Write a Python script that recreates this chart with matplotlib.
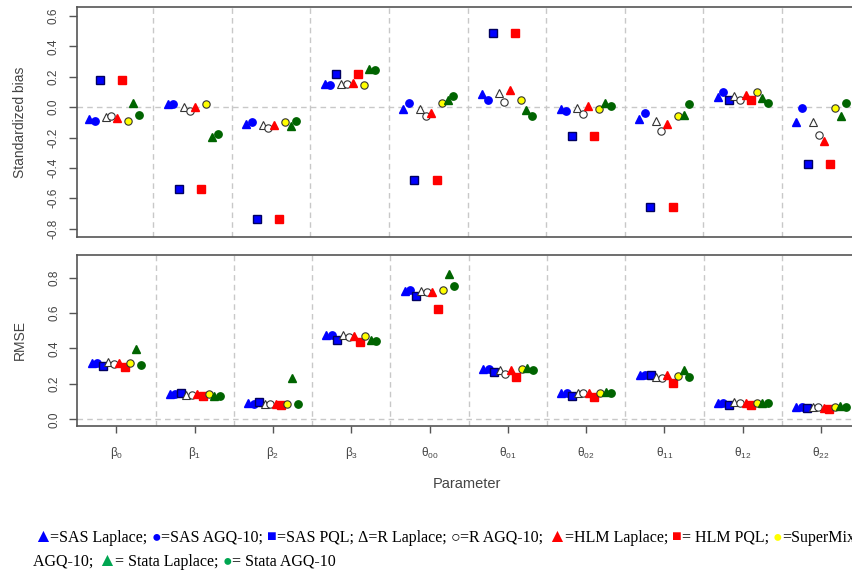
import matplotlib
matplotlib.use("Agg")
import matplotlib.pyplot as plt
from matplotlib.font_manager import FontProperties
import numpy as np

plt.rcParams['font.family'] = ['Liberation Sans', 'DejaVu Sans']
plt.rcParams['mathtext.fontset'] = 'custom'
plt.rcParams['mathtext.rm'] = 'Liberation Sans'
plt.rcParams['mathtext.it'] = 'Liberation Sans'

# ---------------- data ----------------
params = [r'$\mathrm{\beta_{0}}$', r'$\mathrm{\beta_{1}}$', r'$\mathrm{\beta_{2}}$', r'$\mathrm{\beta_{3}}$',
          r'$\mathrm{\theta_{00}}$', r'$\mathrm{\theta_{01}}$', r'$\mathrm{\theta_{02}}$',
          r'$\mathrm{\theta_{11}}$', r'$\mathrm{\theta_{12}}$', r'$\mathrm{\theta_{22}}$']

methods = ["SAS Laplace", "SAS AGQ-10", "SAS PQL", "R Laplace", "R AGQ-10",
           "HLM Laplace", "HLM PQL", "SuperMix AGQ-10", "Stata Laplace", "Stata AGQ-10"]

bias_sas_laplace = [-0.08, 0.02, -0.11, 0.15, -0.01, 0.09, -0.01, -0.08, 0.07, -0.10]
bias_sas_agq = [-0.09, 0.02, -0.10, 0.145, 0.03, 0.05, -0.025, -0.035, 0.10, -0.005]
bias_sas_pql = [0.18, -0.54, -0.735, 0.22, -0.48, 0.49, -0.19, -0.66, 0.05, -0.375]
bias_r_laplace = [-0.065, 0.00, -0.115, 0.15, -0.015, 0.095, -0.005, -0.09, 0.075, -0.10]
bias_r_agq = [-0.057, -0.025, -0.14, 0.15, -0.06, 0.035, -0.045, -0.16, 0.045, -0.18]
bias_hlm_laplace = [-0.07, 0.00, -0.12, 0.16, -0.04, 0.115, 0.005, -0.11, 0.08, -0.225]
bias_hlm_pql = [0.18, -0.54, -0.735, 0.22, -0.48, 0.49, -0.19, -0.66, 0.05, -0.375]
bias_supermix = [-0.09, 0.02, -0.10, 0.145, 0.025, 0.05, -0.012, -0.055, 0.10, -0.005]
bias_stata_laplace = [0.03, -0.195, -0.125, 0.25, 0.05, -0.02, 0.03, -0.05, 0.06, -0.06]
bias_stata_agq = [-0.053, -0.178, -0.092, 0.248, 0.077, -0.058, 0.01, 0.022, 0.026, 0.026]

rmse_sas_laplace = [0.317, 0.143, 0.09, 0.479, 0.723, 0.283, 0.151, 0.249, 0.094, 0.070]
rmse_sas_agq = [0.317, 0.141, 0.089, 0.477, 0.728, 0.283, 0.151, 0.249, 0.094, 0.070]
rmse_sas_pql = [0.30, 0.147, 0.10, 0.45, 0.694, 0.266, 0.132, 0.249, 0.079, 0.062]
rmse_r_laplace = [0.324, 0.139, 0.089, 0.477, 0.726, 0.279, 0.151, 0.241, 0.098, 0.072]
rmse_r_agq = [0.31, 0.136, 0.087, 0.465, 0.717, 0.258, 0.147, 0.235, 0.092, 0.068]
rmse_hlm_laplace = [0.317, 0.143, 0.087, 0.471, 0.719, 0.279, 0.149, 0.249, 0.092, 0.066]
rmse_hlm_pql = [0.296, 0.13, 0.081, 0.437, 0.625, 0.24, 0.126, 0.207, 0.079, 0.058]
rmse_supermix = [0.317, 0.141, 0.089, 0.47, 0.728, 0.283, 0.151, 0.243, 0.092, 0.068]
rmse_stata_laplace = [0.397, 0.134, 0.235, 0.448, 0.823, 0.288, 0.154, 0.277, 0.094, 0.075]
rmse_stata_agq = [0.307, 0.13, 0.089, 0.44, 0.755, 0.279, 0.151, 0.239, 0.092, 0.072]

bias_all = [bias_sas_laplace, bias_sas_agq, bias_sas_pql, bias_r_laplace, bias_r_agq,
            bias_hlm_laplace, bias_hlm_pql, bias_supermix, bias_stata_laplace, bias_stata_agq]
rmse_all = [rmse_sas_laplace, rmse_sas_agq, rmse_sas_pql, rmse_r_laplace, rmse_r_agq,
            rmse_hlm_laplace, rmse_hlm_pql, rmse_supermix, rmse_stata_laplace, rmse_stata_agq]

bias_ticks = [0.6, 0.4, 0.2, 0.0, -0.2, -0.4, -0.6, -0.8]
rmse_ticks = [0.0, 0.2, 0.4, 0.6, 0.8]

legend_line1 = [("\u25B2", "#0000ff"), ("=SAS Laplace; ", "black"), ("\u25CF", "#0000ff"),
                ("=SAS AGQ-10; ", "black"), ("\u25A0", "#0000ff"), ("=SAS PQL; ", "black"),
                ("\u0394=R Laplace; ", "black"), ("\u25CB", "black"), ("=R AGQ-10; ", "black"),
                ("\u25B2", "#ff0000"), ("=HLM Laplace; ", "black"), ("\u25A0", "#ff0000"),
                ("= HLM PQL; ", "black"), ("\u25CF", "#ffff00"), ("=SuperMix", "black")]
legend_line2 = [("AGQ-10; ", "black"), ("\u25B2", "#00a651"), ("= Stata Laplace; ", "black"),
                ("\u25CF", "#00a651"), ("= Stata AGQ-10", "black")]

# ---------------- styles ----------------
BLUE = '#0000ff'
RED = '#ff0000'
GREEN = '#006400'
styles = [
    dict(marker='^', mfc=BLUE, mec=BLUE, ms=6.2),
    dict(marker='o', mfc=BLUE, mec=BLUE, ms=5.3),
    dict(marker='s', mfc=BLUE, mec='#000060', ms=5.5),
    dict(marker='^', mfc='white', mec='#333333', ms=6.0, mew=0.8),
    dict(marker='o', mfc='white', mec='#333333', ms=5.3, mew=0.8),
    dict(marker='^', mfc=RED, mec=RED, ms=6.2),
    dict(marker='s', mfc=RED, mec=RED, ms=5.5),
    dict(marker='o', mfc='#ffff00', mec='#333333', ms=5.3, mew=0.8),
    dict(marker='^', mfc=GREEN, mec=GREEN, ms=6.2),
    dict(marker='o', mfc=GREEN, mec=GREEN, ms=5.3),
]

W, H = 852, 576
fig = plt.figure(figsize=(W / 100, H / 100), dpi=100)

def px_axes(l, t, r, b):
    return fig.add_axes([l / W, 1 - b / H, (r - l) / W, (b - t) / H])

SP = '#555555'
TXT = '#444444'
GRID = '#c8c8c8'

ax1 = px_axes(77, 7, 860.7, 237)
ax2 = px_axes(77.3, 254.7, 860.2, 426)

n = len(params)
xs = np.arange(n)
offs = (np.arange(len(methods)) - 4.5) * 0.0706

for ax, data in [(ax1, bias_all), (ax2, rmse_all)]:
    for k in range(n - 1):
        ax.axvline(k + 0.5, color=GRID, lw=1, ls=(0, (4, 3)), zorder=0)
    ax.axhline(0, color=GRID, lw=1, ls=(0, (4, 3)), zorder=0)
    for j, vals in enumerate(data):
        ax.plot(xs + offs[j], vals, ls='none', zorder=3, **styles[j])
    for s in ax.spines.values():
        s.set_color(SP)
        s.set_linewidth(1.2)
    ax.tick_params(axis='y', colors=SP, labelcolor=TXT, labelsize=8.5, length=5.8,
                   width=1, labelrotation=90, pad=6.5)

ax1.set_xlim(-0.47, 9.5)
ax1.set_ylim(-0.855, 0.66)
ax1.set_yticks(bias_ticks)
ax1.set_yticklabels([f"{v:.1f}" for v in bias_ticks], va='center')
ax1.set_xticks([])

ax2.set_xlim(-0.5, 9.5)
ax2.set_ylim(-0.038, 0.93)
ax2.set_yticks(rmse_ticks)
ax2.set_yticklabels([f"{v:.1f}" for v in rmse_ticks], va='center')
ax2.set_xticks(xs)
ax2.set_xticklabels(params)
ax2.tick_params(axis='x', colors=SP, labelcolor=TXT, labelsize=8.5, length=5, width=1, pad=9)

fig.text(20 / W, 1 - 122 / H, "Standardized bias", rotation=90, ha='center', va='center',
         fontsize=10, color=TXT)
fig.text(20 / W, 1 - 340 / H, "RMSE", rotation=90, ha='center', va='center',
         fontsize=10, color=TXT)
fig.text(467 / W, 1 - 484 / H, "Parameter", ha='center', va='center', fontsize=10.5, color=TXT)

# ---------------- text legend ----------------
renderer = fig.canvas.get_renderer()
BASE = 11.5
fp_text = FontProperties(family=['Liberation Serif', 'DejaVu Serif'], size=BASE)
fp_tri = FontProperties(family=['Liberation Serif', 'DejaVu Serif'], size=BASE * 1.2)

def advance(s, fp):
    wx = renderer.get_text_width_height_descent("x", fp, ismath=False)[0]
    ws = renderer.get_text_width_height_descent(s + "x", fp, ismath=False)[0]
    return ws - wx

for pieces, x0, ybase in [(legend_line1, 33, 541.5), (legend_line2, 33, 565.5)]:
    x = x0
    for s, c in pieces:
        is_tri = s == "\u25B2"
        fp = fp_tri if is_tri else fp_text
        fig.text(x / W, 1 - ybase / H, s, color=c, fontproperties=fp, va='baseline', ha='left')
        adv = advance(s, fp)
        x += adv * 0.92 if is_tri else adv

fig.savefig("out.png", dpi=100)
